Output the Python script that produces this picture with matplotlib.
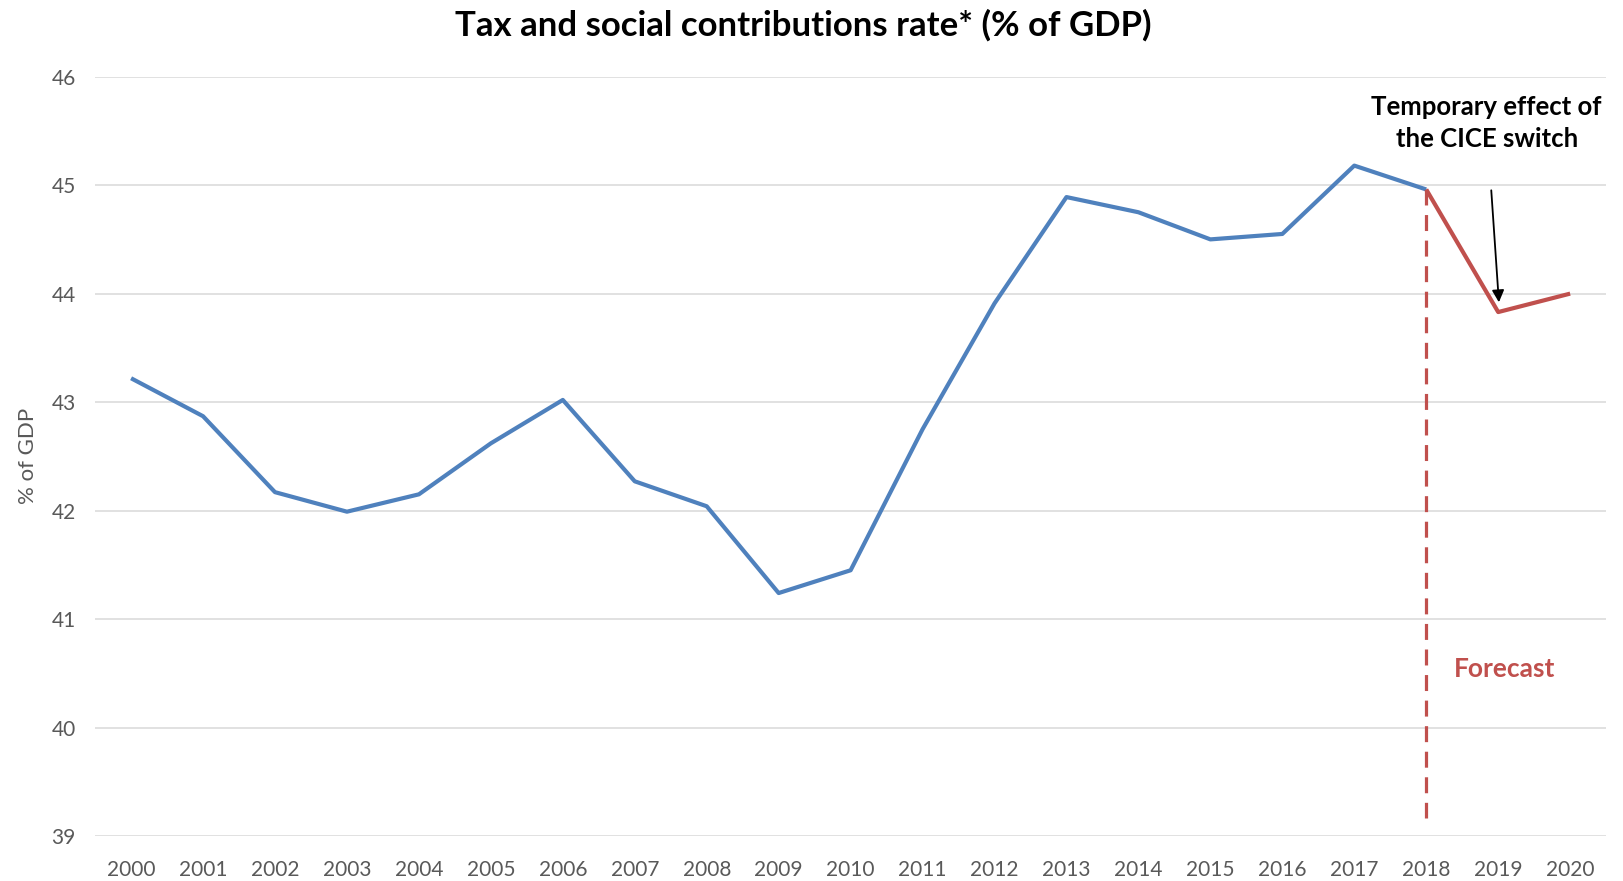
import numpy as np
import matplotlib.pyplot as plt

plt.rcParams['font.family'] = ['Lato', 'DejaVu Sans']

# ------ data ------ #
years_hist = [2000, 2001, 2002, 2003, 2004, 2005, 2006, 2007, 2008, 2009,
              2010, 2011, 2012, 2013, 2014, 2015, 2016, 2017, 2018]
rate_hist = [43.22, 42.87, 42.17, 41.99, 42.15, 42.62, 43.02, 42.27, 42.04, 41.24,
             41.45, 42.75, 43.91, 44.89, 44.75, 44.50, 44.55, 45.18, 44.96]

years_fc = [2018, 2019, 2020]
rate_fc = [44.96, 43.83, 44.00]

blue = '#4F81BD'
red = '#C0504D'
grey = '#595959'

fig = plt.figure(figsize=(16.23, 8.81), dpi=100)
ax = fig.add_axes([0.0586, 0.051, 0.931, 0.862])

ax.plot(years_hist, rate_hist, color=blue, lw=3, solid_capstyle='butt', zorder=3)
ax.plot(years_fc, rate_fc, color=red, lw=3, solid_capstyle='butt', zorder=3)

# forecast separator
ax.plot([2018, 2018], [rate_fc[0], 39.17], color=red, lw=2.3,
        dashes=(5, 3), zorder=2)
ax.text(2018.38, 40.54, 'Forecast', color=red, fontsize=19,
        fontweight='bold', va='center', ha='left')

ax.annotate('Temporary effect of\nthe CICE switch', xy=(2019.01, 43.92),
            xytext=(2018.84, 45.57), ha='center', va='center',
            fontsize=18.5, fontweight='bold', linespacing=1.42,
            arrowprops=dict(arrowstyle='-|>', color='black', lw=1.3,
                            mutation_scale=18, shrinkA=26, shrinkB=0))

ax.set_xlim(1999.5, 2020.5)
ax.set_ylim(39, 46)
ax.set_xticks(np.arange(2000, 2021))
ax.set_yticks(np.arange(39, 47))
ax.grid(axis='y', color='#D9D9D9', lw=1.1)
ax.set_axisbelow(True)
for s in ax.spines.values():
    s.set_visible(False)
ax.tick_params(length=0, labelsize=15, labelcolor=grey)
ax.tick_params(axis='x', pad=17)
ax.tick_params(axis='y', pad=14)

ax.set_ylabel('% of GDP', fontsize=16, color=grey, labelpad=10)
fig.suptitle('Tax and social contributions rate* (% of GDP)', fontsize=25,
             fontweight='bold', x=0.495, y=0.99, va='top')

fig.savefig('out.png', dpi=100)
